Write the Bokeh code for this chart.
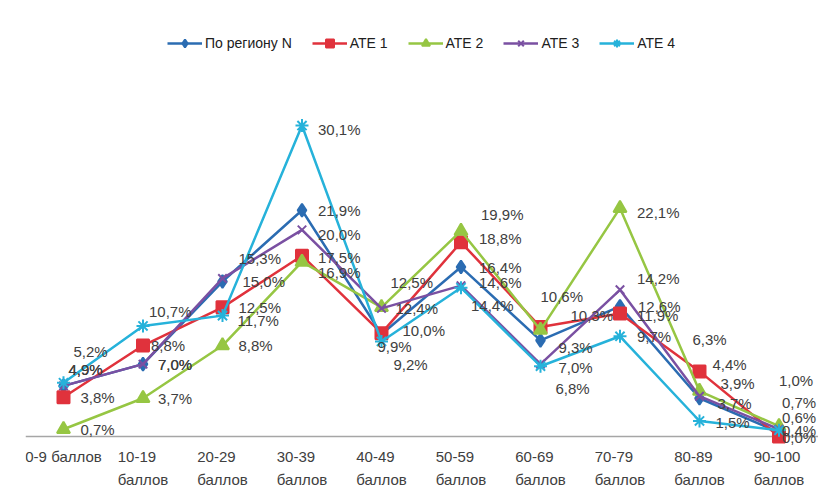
from bokeh.plotting import figure
from bokeh.models import (ColumnDataSource, Range1d, LabelSet, Span,
                          Legend, LegendItem)
from bokeh.core.properties import value
from bokeh.embed import file_html
from bokeh.resources import INLINE

categories = ["0-9 баллов", "10-19\nбаллов", "20-29\nбаллов", "30-39\nбаллов",
              "40-49\nбаллов", "50-59\nбаллов", "60-69\nбаллов", "70-79\nбаллов",
              "80-89\nбаллов", "90-100\nбаллов"]
series_names = ["По региону N", "АТЕ 1", "АТЕ 2", "АТЕ 3", "АТЕ 4"]
region_n = [4.9, 7.0, 15.0, 21.9, 9.9, 16.4, 9.3, 12.6, 3.7, 0.4]
ate1 = [3.8, 8.8, 12.5, 17.5, 10.0, 18.8, 10.6, 11.9, 6.3, 0.0]
ate2 = [0.7, 3.7, 8.8, 16.9, 12.5, 19.9, 10.3, 22.1, 4.4, 1.0]
ate3 = [4.9, 7.0, 15.3, 20.0, 12.4, 14.6, 7.0, 14.2, 3.9, 0.7]
ate4 = [5.2, 10.7, 11.7, 30.1, 9.2, 14.4, 6.8, 9.7, 1.5, 0.6]
series_values = [region_n, ate1, ate2, ate3, ate4]

# styling
colors = ["#2b6cb2", "#e0323c", "#96c643", "#7a50a2", "#26b2da"]
markers = ["diamond", "square", "triangle", "x", "asterisk"]
msizes = [13, 12, 13, 12, 13]
FONT = "Liberation Sans"
# manual label nudges (screen px: dx right, dy down), like the hand-placed labels
label_nudges = [
    [(5, -16), (15, 0), (20, 0), (16, 0), (-4, 12), (18, 0), (18, 7), (18, 0), (18, 5), (3, -2)],
    [(17, 0), (8, 0), (16, 0), (16, 2), (21, -3), (18, -4), (0, -30), (17, 2), (-7, -32), (3, 1)],
    [(17, 0), (15, 0), (16, 0), (16, 11), (9, -25), (20, -16), (30, -15), (17, 4), (13, -27), (0, -46)],
    [(5, -16), (15, 0), (16, -20), (16, 5), (14, 0), (18, -3), (18, 3), (17, -11), (21, -13), (3, -27)],
    [(10, -31), (6, -14), (15, 5), (16, 4), (12, 23), (10, 18), (15, 22), (17, 0), (16, 2), (3, -13)],
]

# the value axis is hidden (as in the original); the frame reaches down to the
# page bottom so the category names can sit below the zero line
p = figure(width=818, height=490, output_backend="svg", toolbar_location=None,
           x_range=Range1d(-0.478, 9.497), y_range=Range1d(-5.23, 40.27),
           min_border_left=25, min_border_right=0, min_border_top=20,
           min_border_bottom=0)
p.outline_line_color = None
p.xgrid.visible = False
p.ygrid.visible = False
p.xaxis.visible = False
p.yaxis.visible = False

xs = list(range(len(categories)))

# category axis line at 0
p.add_layout(Span(location=0, dimension="width", line_color="#a6a6a6",
                  line_width=1.5, level="underlay"))
cat_src = ColumnDataSource(dict(x=xs, y=[0] * len(xs), lab=categories))
p.add_layout(LabelSet(x="x", y="y", text="lab", source=cat_src, y_offset=-12,
                      text_align="center", text_baseline="top",
                      text_font=value(FONT), text_font_size=value("15px"),
                      text_line_height=value(1.35), text_color=value("#404040")))

items = []
for name, vals, col, mk, ms, nud in zip(series_names, series_values, colors,
                                        markers, msizes, label_nudges):
    src = ColumnDataSource(dict(
        x=xs, y=vals,
        lab=[f"{v:.1f}%".replace(".", ",") for v in vals],
        dx=[n[0] for n in nud], dy=[-n[1] for n in nud]))
    r1 = p.line("x", "y", source=src, line_color=col, line_width=2.5)
    r2 = p.scatter("x", "y", source=src, marker=mk, size=ms, fill_color=col,
                   line_color=col, line_width=2)
    items.append(LegendItem(label=name, renderers=[r1, r2]))
    ls = LabelSet(x="x", y="y", text="lab", source=src, x_offset="dx", y_offset="dy",
                  text_baseline="middle", text_align="left",
                  text_font=value(FONT), text_font_size=value("15px"),
                  text_color=value("#404040"))
    p.add_layout(ls)

legend = Legend(items=items, orientation="horizontal", location=(142, 437))
legend.label_text_font = FONT
legend.label_text_font_size = "14px"
legend.label_text_color = "#202020"
legend.glyph_width = 35
legend.glyph_height = 20
legend.label_standoff = 3
legend.spacing = 20
legend.padding = 0
legend.margin = 0
legend.border_line_color = None
legend.background_fill_alpha = 0
p.add_layout(legend)

open("out.html", "w").write(file_html(p, INLINE))
